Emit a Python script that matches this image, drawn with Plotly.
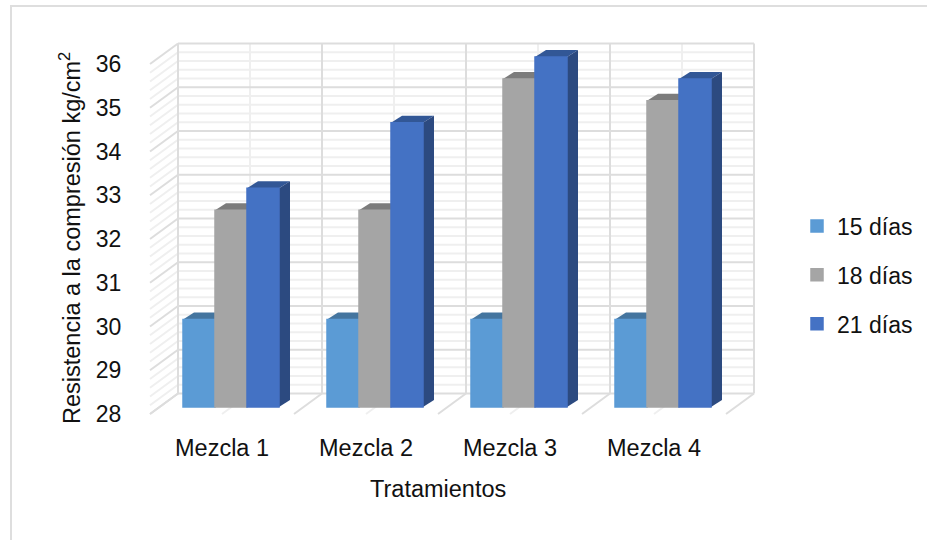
import plotly.graph_objects as go

categories = ["Mezcla 1", "Mezcla 2", "Mezcla 3", "Mezcla 4"]
series_names = ["15 días", "18 días", "21 días"]
dias_15 = [30, 30, 30, 30]
dias_18 = [32.5, 32.5, 35.5, 35]
dias_21 = [33, 34.5, 36, 35.5]
series_values = [dias_15, dias_18, dias_21]
front_colors = ["#5B9BD5", "#A5A5A5", "#4472C4"]
top_colors = ["#44759F", "#7C7C7C", "#325796"]
side_colors = ["#3A6490", "#6E6E6E", "#2C4A80"]
y_ticks = list(range(28, 37))
x_title = "Tratamientos"
y_title = "Resistencia a la compresión kg/cm<sup>2</sup>"

W, H = 927, 540
PX_CAT, PX_UNIT = 144.0, 43.75
X0_PX, Y28_PX = 222.0, 414.0
L, R, T, B = 128, 790, 30, 422


def ux(px):
    return px / PX_CAT


def uy(px):
    return px / PX_UNIT


def paper_x(px):
    return (px - L) / (R - L)


def paper_y(px):
    return (B - px) / (B - T)


WALL_DX, WALL_DY = ux(28), uy(20.5)
BAR_W = ux(32)
BAR_SHIFT = ux(9)
BAR_LIFT = uy(7)
BAR_DX, BAR_DY = ux(11), uy(7)
BASE = 28
n = len(categories)

x_range = [(L - X0_PX) / PX_CAT, (R - X0_PX) / PX_CAT]
y_range = [BASE - (B - Y28_PX) / PX_UNIT, BASE + (Y28_PX - T) / PX_UNIT]

fig = go.Figure()


def segs(pairs, color, width):
    xs, ys = [], []
    for (a, b) in pairs:
        xs += [a[0], b[0], None]
        ys += [a[1], b[1], None]
    fig.add_trace(go.Scatter(x=xs, y=ys, mode="lines", line=dict(color=color, width=width),
                             showlegend=False, hoverinfo="skip"))


left, right = -0.5, n - 0.5
bl, br = left + WALL_DX, right + WALL_DX
minor_vals = [BASE + k * 0.2 for k in range(0, 41) if k % 5]
# minor grid
pairs = []
for v in minor_vals:
    pairs.append(((left, v), (bl, v + WALL_DY)))
    pairs.append(((bl, v + WALL_DY), (br, v + WALL_DY)))
for i in range(n):
    pairs.append(((i, BASE), (i + WALL_DX, BASE + WALL_DY)))
    pairs.append(((i + WALL_DX, BASE + WALL_DY), (i + WALL_DX, y_ticks[-1] + WALL_DY)))
segs(pairs, "#EFEFEF", 2)
# major grid
pairs = []
for v in y_ticks:
    pairs.append(((left, v), (bl, v + WALL_DY)))
    pairs.append(((bl, v + WALL_DY), (br, v + WALL_DY)))
for i in range(n + 1):
    xb = left + i
    pairs.append(((xb, BASE), (xb + WALL_DX, BASE + WALL_DY)))
    pairs.append(((xb + WALL_DX, BASE + WALL_DY), (xb + WALL_DX, y_ticks[-1] + WALL_DY)))
segs(pairs, "#DDDDDD", 2)

# depth faces of every bar
for s, vals in enumerate(series_values):
    for i, v in enumerate(vals):
        x1 = i + BAR_SHIFT + (s - 1.5) * BAR_W
        x2 = x1 + BAR_W
        y1 = BASE + BAR_LIFT
        y2 = v + BAR_LIFT
        fig.add_trace(go.Scatter(
            x=[x1, x2, x2 + BAR_DX, x1 + BAR_DX, x1],
            y=[y2, y2, y2 + BAR_DY, y2 + BAR_DY, y2],
            mode="lines", fill="toself", fillcolor=top_colors[s],
            line=dict(width=0, color=top_colors[s]), showlegend=False, hoverinfo="skip"))
        fig.add_trace(go.Scatter(
            x=[x2, x2 + BAR_DX, x2 + BAR_DX, x2, x2],
            y=[y1, y1 + BAR_DY, y2 + BAR_DY, y2, y1],
            mode="lines", fill="toself", fillcolor=side_colors[s],
            line=dict(width=0, color=side_colors[s]), showlegend=False, hoverinfo="skip"))

# front faces, on an overlaying pair of axes so they sit above the depth faces
for s, vals in enumerate(series_values):
    fig.add_trace(go.Bar(
        x=[i + BAR_SHIFT + (s - 1) * BAR_W for i in range(n)],
        y=[v - BASE for v in vals],
        base=BASE + BAR_LIFT,
        width=BAR_W,
        name=series_names[s],
        legendgroup=series_names[s],
        marker=dict(color=front_colors[s], line=dict(width=1.5, color=front_colors[s])),
        xaxis="x2", yaxis="y2"))

font = dict(family="Liberation Sans", size=23.5, color="#111111")
tick_font = dict(family="Liberation Sans", size=23, color="#111111")
fig.update_layout(
    width=W, height=H, autosize=False,
    margin=dict(l=L, r=W - R, t=T, b=H - B, autoexpand=False),
    paper_bgcolor="white", plot_bgcolor="white",
    barmode="overlay",
    font=font,
    xaxis=dict(range=x_range, tickmode="array", tickvals=list(range(n)), ticktext=categories,
               showgrid=False, zeroline=False, showline=False, ticks="outside", ticklen=5,
               tickcolor="rgba(0,0,0,0)", tickfont=font),
    yaxis=dict(range=y_range, tickmode="array", tickvals=y_ticks, showgrid=False, zeroline=False,
               showline=False, ticks="outside", ticklen=1, tickcolor="rgba(0,0,0,0)", tickfont=tick_font),
    xaxis2=dict(range=x_range, overlaying="x", visible=False),
    yaxis2=dict(range=y_range, overlaying="y", visible=False),
    legend=dict(x=paper_x(797), xanchor="left", y=paper_y(275), yanchor="middle",
                font=tick_font, bgcolor="rgba(0,0,0,0)", tracegroupgap=16, itemclick=False, itemdoubleclick=False),
    annotations=[
        dict(text=x_title, xref="paper", yref="paper", x=paper_x(438), y=paper_y(489),
             xanchor="center", yanchor="middle", showarrow=False, font=font),
        dict(text=y_title, xref="paper", yref="paper", x=paper_x(70), y=paper_y(238),
             xanchor="center", yanchor="middle", showarrow=False, font=font, textangle=-90),
    ],
    shapes=[
        dict(type="line", xref="paper", yref="paper", x0=paper_x(11), x1=paper_x(11),
             y0=paper_y(540), y1=paper_y(6), line=dict(color="#DEDEDE", width=2)),
        dict(type="line", xref="paper", yref="paper", x0=paper_x(10), x1=paper_x(927),
             y0=paper_y(6), y1=paper_y(6), line=dict(color="#DEDEDE", width=2)),
    ],
)
fig.write_html("out.html", config={"displayModeBar": False},
               post_script="document.body.style.margin='0';document.body.style.overflow='hidden';")
